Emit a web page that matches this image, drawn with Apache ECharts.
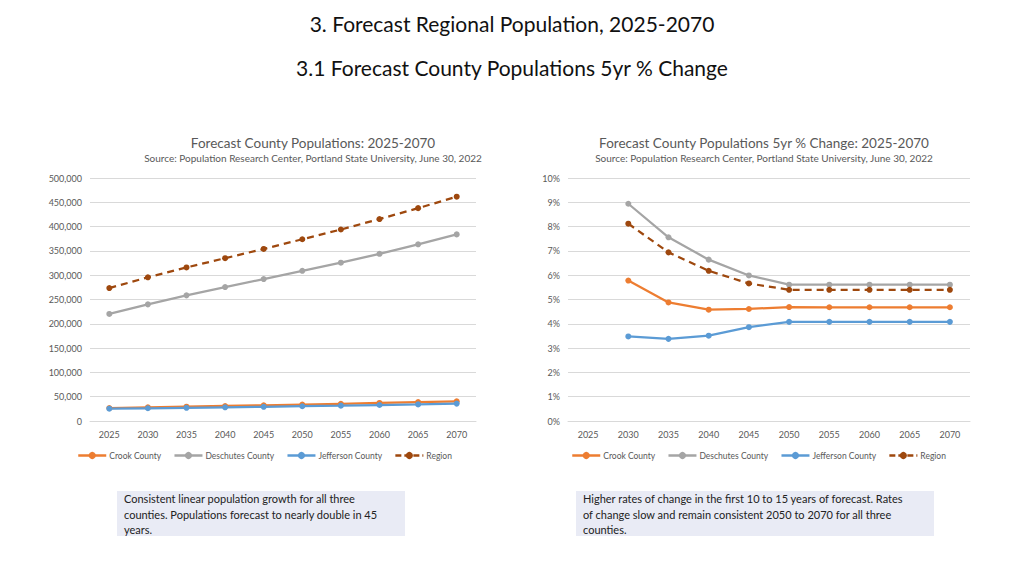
<!DOCTYPE html>
<html>
<head>
<meta charset="utf-8">
<script src="https://cdn.jsdelivr.net/npm/echarts@6/dist/echarts.min.js"></script>
<style>
  html, body { margin: 0; padding: 0; background: #fff; }
  #main { width: 1024px; height: 576px; position: absolute; left: 0; top: 0; }
  .note {
    position: absolute; background: #e9ebf5; color: #222;
    font-family: Lato, "Open Sans", sans-serif; font-size: 11px; line-height: 15.5px;
    padding: 0 7px; box-sizing: border-box; white-space: nowrap;
  }
</style>
</head>
<body>
<div id="main"></div>
<div class="note" style="left:117px;top:491px;width:288px;height:45px;">Consistent linear population growth for all three<br>counties. Populations forecast to nearly double in 45<br>years.</div>
<div class="note" style="left:576px;top:491px;width:358px;height:45px;">Higher rates of change in the first 10 to 15 years of forecast. Rates<br>of change slow and remain consistent 2050 to 2070 for all three<br>counties.</div>
<script>
const years = ['2025','2030','2035','2040','2045','2050','2055','2060','2065','2070'];

// populations
const crookPop = [26600, 28100, 29500, 30900, 32300, 33800, 35400, 37100, 38800, 40600];
const deschutesPop = [220300, 240000, 258500, 275600, 292000, 309000, 325800, 344000, 363500, 384000];
const jeffersonPop = [25300, 26200, 27100, 28100, 29200, 30400, 31600, 32900, 34200, 35800];
const regionPop = [273500, 295600, 316000, 335000, 354000, 374000, 394000, 415500, 438000, 461500];

// 5yr % change
const crookPct = [null, 5.78, 4.88, 4.58, 4.61, 4.69, 4.68, 4.68, 4.68, 4.68];
const deschutesPct = [null, 8.94, 7.56, 6.64, 5.99, 5.61, 5.61, 5.61, 5.61, 5.61];
const jeffersonPct = [null, 3.48, 3.38, 3.51, 3.86, 4.08, 4.08, 4.08, 4.08, 4.08];
const regionPct = [null, 8.12, 6.94, 6.18, 5.66, 5.40, 5.40, 5.40, 5.40, 5.40];

const names = ['Crook County', 'Deschutes County', 'Jefferson County', 'Region'];
const colors = {
  'Crook County': '#ED7D31',
  'Deschutes County': '#A5A5A5',
  'Jefferson County': '#5B9BD5',
  'Region': '#9E480E'
};
const font = 'Lato, "Open Sans", sans-serif';
const grey = '#595959';

function mkSeries(name, data, idx) {
  return {
    name: name, type: 'line', data: data,
    xAxisIndex: idx, yAxisIndex: idx,
    symbol: 'circle', symbolSize: 6,
    itemStyle: { color: colors[name] },
    lineStyle: { width: 2.25, color: colors[name], type: name === 'Region' ? [7, 5] : 'solid' },
    connectNulls: false, animation: false
  };
}

function xAx(idx) {
  return {
    type: 'category', data: years, gridIndex: idx, boundaryGap: true,
    axisLine: { lineStyle: { color: '#d9d9d9' } },
    axisTick: { show: false },
    axisLabel: { color: grey, fontSize: 9, fontFamily: font, margin: 9 }
  };
}

function mkLegend(left) {
  return {
    left: left, top: 446, itemWidth: 28, itemHeight: 9, itemGap: 12,
    textStyle: { fontFamily: font, fontSize: 8.5, color: grey, padding: [0, 0, 0, -2] },
    data: names.map(n => ({
      name: n,
      itemStyle: { color: colors[n] },
      lineStyle: { width: 2.5, type: n === 'Region' ? [6, 3] : 'solid' }
    }))
  };
}

const chart = echarts.init(document.getElementById('main'), null, { renderer: 'svg' });
chart.setOption({
  animation: false,
  title: [
    { text: '3. Forecast Regional Population, 2025-2070', left: 'center', top: 8,
      textStyle: { fontFamily: font, fontSize: 21, fontWeight: 'normal', color: '#111' } },
    { text: '3.1 Forecast County Populations 5yr % Change', left: 'center', top: 52,
      textStyle: { fontFamily: font, fontSize: 21, fontWeight: 'normal', color: '#111' } },
    { text: 'Forecast County Populations: 2025-2070',
      subtext: 'Source: Population Research Center, Portland State University, June 30, 2022',
      left: 308, textAlign: 'center', top: 131, itemGap: 3,
      textStyle: { fontFamily: font, fontSize: 13.5, fontWeight: 'normal', color: grey },
      subtextStyle: { fontFamily: font, fontSize: 10, color: grey } },
    { text: 'Forecast County Populations 5yr % Change: 2025-2070',
      subtext: 'Source: Population Research Center, Portland State University, June 30, 2022',
      left: 759, textAlign: 'center', top: 131, itemGap: 3,
      textStyle: { fontFamily: font, fontSize: 13.5, fontWeight: 'normal', color: grey },
      subtextStyle: { fontFamily: font, fontSize: 10, color: grey } }
  ],
  legend: [mkLegend(72), mkLegend(566)],
  grid: [
    { left: 90, width: 386, top: 178, height: 243 },
    { left: 568, width: 402, top: 178, height: 243 }
  ],
  xAxis: [xAx(0), xAx(1)],
  yAxis: [
    { type: 'value', gridIndex: 0, min: 0, max: 500000, interval: 50000,
      axisLine: { show: false }, axisTick: { show: false },
      splitLine: { lineStyle: { color: '#d9d9d9' } },
      axisLabel: { color: grey, fontSize: 9, fontFamily: font, margin: 8,
        formatter: v => v.toLocaleString('en-US') } },
    { type: 'value', gridIndex: 1, min: 0, max: 10, interval: 1,
      axisLine: { show: false }, axisTick: { show: false },
      splitLine: { lineStyle: { color: '#d9d9d9' } },
      axisLabel: { color: grey, fontSize: 9, fontFamily: font, margin: 8, formatter: '{value}%' } }
  ],
  series: [
    mkSeries('Crook County', crookPop, 0),
    mkSeries('Deschutes County', deschutesPop, 0),
    mkSeries('Jefferson County', jeffersonPop, 0),
    mkSeries('Region', regionPop, 0),
    mkSeries('Crook County', crookPct, 1),
    mkSeries('Deschutes County', deschutesPct, 1),
    mkSeries('Jefferson County', jeffersonPct, 1),
    mkSeries('Region', regionPct, 1)
  ]
});
</script>
</body>
</html>
